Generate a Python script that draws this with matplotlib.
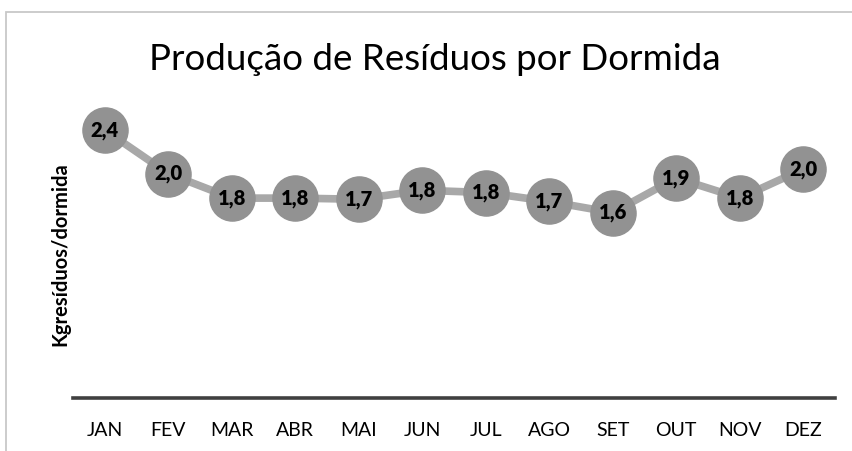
import matplotlib
matplotlib.use("Agg")
import matplotlib.pyplot as plt
from matplotlib.patches import Rectangle

months = ["JAN", "FEV", "MAR", "ABR", "MAI", "JUN", "JUL", "AGO", "SET", "OUT", "NOV", "DEZ"]
values = [2.40, 2.01, 1.79, 1.79, 1.78, 1.86, 1.84, 1.76, 1.66, 1.97, 1.79, 2.05]
labels = ["2,4", "2,0", "1,8", "1,8", "1,7", "1,8", "1,8", "1,7", "1,6", "1,9", "1,8", "2,0"]
title = "Produção de Resíduos por Dormida"
ylabel = "Kgresíduos/dormida"

plt.rcParams['font.family'] = ['Lato', 'DejaVu Sans']

W, H = 853, 451
fig = plt.figure(figsize=(W / 100, H / 100), dpi=100)

# axes geometry in pixels
x0, x1 = 73, 835
ybase = 398
ymax = 3.0
scale = (ybase - 130) / 2.4  # px per unit
top = ybase - ymax * scale
ax = fig.add_axes([x0 / W, 1 - ybase / H, (x1 - x0) / W, (ybase - top) / H])
ax.set_xlim(-0.5, len(months) - 0.5)
ax.set_ylim(0, ymax)
for s in ["top", "right", "left"]:
    ax.spines[s].set_visible(False)
ax.spines["bottom"].set_color("#404040")
ax.spines["bottom"].set_linewidth(2.6)
ax.set_yticks([])
ax.set_xticks(range(len(months)))
ax.set_xticklabels(months, fontsize=14, color="#000000")
ax.tick_params(axis="x", length=0, pad=17)
ax.patch.set_alpha(0)

x = list(range(len(months)))
ax.plot(x, values, color="#A8A8A8", lw=5.5, zorder=2, solid_capstyle="round")
ax.plot(x, values, linestyle="none", marker="o", markersize=32.5,
        markerfacecolor="#929292", markeredgecolor="#929292", zorder=3)
for xi, v, lab in zip(x, values, labels):
    ax.text(xi, v, lab, ha="center", va="center", fontsize=14.5,
            fontweight="heavy", color="#000000", zorder=4)

fig.text(435 / W, 1 - 60 / H, title, ha="center", va="center", fontsize=26.5, color="#000000")
fig.text(60 / W, 1 - 254 / H, ylabel, ha="center", va="center", rotation=90,
         fontsize=14.5, fontweight="bold", color="#000000")

# outer chart border (cropped at right/bottom)
fig.patches.append(Rectangle((6.5 / W, -0.05), 1.0, 1 - 12 / H + 0.05,
                             transform=fig.transFigure, fill=False,
                             edgecolor="#C8C8C8", lw=1.3))

fig.savefig("out.png", dpi=100)
